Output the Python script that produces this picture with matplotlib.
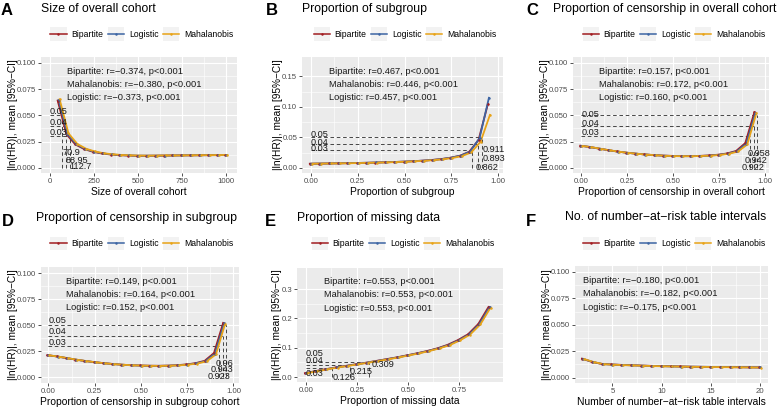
import numpy as np
import matplotlib
matplotlib.use('Agg')
import matplotlib.pyplot as plt
from matplotlib.legend_handler import HandlerLine2D
from matplotlib.lines import Line2D
from matplotlib.patches import Rectangle
from matplotlib.ticker import FormatStrFormatter

plt.rcParams['font.family'] = ['Liberation Sans', 'DejaVu Sans']

methods = ['Bipartite', 'Logistic', 'Mahalanobis']
colors = ['#A11D21', '#3C64A3', '#E8A317']
stat_order = ['Bipartite', 'Mahalanobis', 'Logistic']   # order of the r lines in each panel
thresholds = [0.05, 0.04, 0.03]

# A: size of overall cohort
size_x = [50, 100, 150, 200, 250, 300, 350, 400, 450, 500,
          550, 600, 650, 700, 750, 800, 850, 900, 950, 1000]
size_bip = [0.0640, 0.0318, 0.0222, 0.0178, 0.0152, 0.0136, 0.0126, 0.0120, 0.0116, 0.0114,
            0.0114, 0.0115, 0.0116, 0.0117, 0.0118, 0.0118, 0.0119, 0.0120, 0.0120, 0.0121]
size_log = [0.0645, 0.0322, 0.0224, 0.0179, 0.0153, 0.0137, 0.0127, 0.0121, 0.0117, 0.0115,
            0.0115, 0.0115, 0.0116, 0.0117, 0.0118, 0.0119, 0.0119, 0.0120, 0.0121, 0.0121]
size_maha = [0.0652, 0.0328, 0.0227, 0.0181, 0.0155, 0.0138, 0.0128, 0.0122, 0.0118, 0.0116,
             0.0115, 0.0116, 0.0117, 0.0117, 0.0118, 0.0119, 0.0120, 0.0120, 0.0121, 0.0122]
size_r = ['\u22120.374', '\u22120.380', '\u22120.373']
size_cross = [70.9, 88.95, 112.7]

# B: proportion of subgroup
sub_x = [0.00, 0.05, 0.10, 0.15, 0.20, 0.25, 0.30, 0.35, 0.40, 0.45,
         0.50, 0.55, 0.60, 0.65, 0.70, 0.75, 0.80, 0.85, 0.90, 0.95]
sub_bip = [0.0070, 0.0072, 0.0074, 0.0076, 0.0079, 0.0082, 0.0085, 0.0089, 0.0093, 0.0098,
           0.0104, 0.0111, 0.0120, 0.0131, 0.0146, 0.0168, 0.0200, 0.0265, 0.0460, 0.1050]
sub_log = [0.0071, 0.0073, 0.0075, 0.0077, 0.0080, 0.0083, 0.0086, 0.0090, 0.0094, 0.0099,
           0.0105, 0.0112, 0.0121, 0.0132, 0.0147, 0.0170, 0.0203, 0.0270, 0.0490, 0.1150]
sub_maha = [0.0070, 0.0072, 0.0074, 0.0076, 0.0078, 0.0081, 0.0084, 0.0088, 0.0092, 0.0097,
            0.0103, 0.0110, 0.0118, 0.0129, 0.0143, 0.0164, 0.0194, 0.0255, 0.0430, 0.0870]
sub_r = ['0.467', '0.446', '0.457']
sub_cross = [0.911, 0.893, 0.862]

# C: proportion of censorship in overall cohort
cens_x = [0.00, 0.05, 0.10, 0.15, 0.20, 0.25, 0.30, 0.35, 0.40, 0.45,
          0.50, 0.55, 0.60, 0.65, 0.70, 0.75, 0.80, 0.85, 0.90, 0.95]
cens_bip = [0.0210, 0.0198, 0.0183, 0.0168, 0.0155, 0.0144, 0.0135, 0.0127, 0.0121, 0.0116,
            0.0113, 0.0111, 0.0111, 0.0113, 0.0117, 0.0124, 0.0136, 0.0160, 0.0235, 0.0530]
cens_log = [0.0209, 0.0197, 0.0182, 0.0167, 0.0154, 0.0143, 0.0134, 0.0126, 0.0120, 0.0115,
            0.0112, 0.0110, 0.0110, 0.0112, 0.0116, 0.0123, 0.0135, 0.0158, 0.0230, 0.0525]
cens_maha = [0.0208, 0.0196, 0.0181, 0.0166, 0.0153, 0.0142, 0.0133, 0.0125, 0.0119, 0.0114,
             0.0111, 0.0110, 0.0110, 0.0112, 0.0115, 0.0122, 0.0133, 0.0155, 0.0222, 0.0520]
cens_r = ['0.157', '0.172', '0.160']
cens_cross = [0.958, 0.942, 0.922]

# D: proportion of censorship in subgroup
csub_x = [0.00, 0.05, 0.10, 0.15, 0.20, 0.25, 0.30, 0.35, 0.40, 0.45,
          0.50, 0.55, 0.60, 0.65, 0.70, 0.75, 0.80, 0.85, 0.90, 0.95]
csub_bip = [0.0212, 0.0200, 0.0185, 0.0170, 0.0157, 0.0146, 0.0136, 0.0128, 0.0121, 0.0116,
            0.0113, 0.0111, 0.0110, 0.0112, 0.0116, 0.0123, 0.0135, 0.0158, 0.0232, 0.0522]
csub_log = [0.0211, 0.0199, 0.0184, 0.0169, 0.0156, 0.0145, 0.0135, 0.0127, 0.0120, 0.0115,
            0.0112, 0.0110, 0.0110, 0.0111, 0.0115, 0.0122, 0.0134, 0.0156, 0.0228, 0.0518]
csub_maha = [0.0210, 0.0198, 0.0183, 0.0168, 0.0155, 0.0144, 0.0134, 0.0126, 0.0120, 0.0115,
             0.0112, 0.0110, 0.0109, 0.0111, 0.0114, 0.0121, 0.0132, 0.0153, 0.0220, 0.0515]
csub_r = ['0.149', '0.164', '0.152']
csub_cross = [0.960, 0.943, 0.923]

# E: proportion of missing data
miss_x = [0.00, 0.05, 0.10, 0.15, 0.20, 0.25, 0.30, 0.35, 0.40, 0.45,
          0.50, 0.55, 0.60, 0.65, 0.70, 0.75, 0.80, 0.85, 0.90]
miss_bip = [0.0130, 0.0200, 0.0265, 0.0325, 0.0380, 0.0435, 0.0490, 0.0550, 0.0610, 0.0670,
            0.0740, 0.0810, 0.0890, 0.0980, 0.1100, 0.1260, 0.1460, 0.1810, 0.2390]
miss_log = [0.0130, 0.0200, 0.0265, 0.0325, 0.0380, 0.0435, 0.0490, 0.0550, 0.0610, 0.0670,
            0.0740, 0.0810, 0.0890, 0.0980, 0.1095, 0.1255, 0.1455, 0.1805, 0.2385]
miss_maha = [0.0128, 0.0198, 0.0263, 0.0323, 0.0378, 0.0433, 0.0488, 0.0548, 0.0608, 0.0668,
             0.0738, 0.0808, 0.0888, 0.0978, 0.1090, 0.1250, 0.1450, 0.1795, 0.2370]
miss_r = ['0.553', '0.553', '0.553']
miss_cross = [0.309, 0.215, 0.126]

# F: number of number-at-risk table intervals
nint_x = [2, 3, 4, 5, 6, 7, 8, 9, 10, 11, 12, 13, 14, 15, 16, 17, 18, 19, 20]
nint_bip = [0.0180, 0.0150, 0.0130, 0.0125, 0.0121, 0.0118, 0.0115, 0.0112, 0.0110, 0.0108,
            0.0106, 0.0104, 0.0103, 0.0102, 0.0101, 0.0100, 0.0099, 0.0098, 0.0097]
nint_log = [0.0178, 0.0149, 0.0129, 0.0124, 0.0120, 0.0117, 0.0114, 0.0111, 0.0109, 0.0107,
            0.0105, 0.0104, 0.0103, 0.0102, 0.0101, 0.0100, 0.0099, 0.0098, 0.0097]
nint_maha = [0.0177, 0.0148, 0.0128, 0.0123, 0.0119, 0.0116, 0.0113, 0.0110, 0.0108, 0.0106,
             0.0105, 0.0103, 0.0102, 0.0101, 0.0100, 0.0099, 0.0098, 0.0097, 0.0096]
nint_r = ['\u22120.180', '\u22120.182', '\u22120.175']
nint_cross = []

W, H = 780, 408
fig = plt.figure(figsize=(W / 100, H / 100), dpi=100)


def px_box(x0, y0, x1, y1):
    return [x0 / W, 1 - y1 / H, (x1 - x0) / W, (y1 - y0) / H]


class KeyHandler(HandlerLine2D):
    # grey key background like ggplot
    def create_artists(self, legend, orig_handle, xdescent, ydescent,
                       width, height, fontsize, trans):
        arts = super().create_artists(legend, orig_handle, xdescent, ydescent,
                                      width, height, fontsize, trans)
        pad = 0.45 * fontsize
        bg = Rectangle((-xdescent, -ydescent - pad), width, height + 2 * pad,
                       facecolor='#F2F2F2', edgecolor='none', transform=trans)
        return [bg] + list(arts)


panels = [
    dict(letter='A', title='Size of overall cohort', xlabel='Size of overall cohort',
         x=size_x, ys=[size_bip, size_log, size_maha], r=size_r, cross=size_cross,
         box=(41, 57, 237, 173), title_x=40.7, letter_x=0.5, row_y=(10.8, 9.2, 34.3), leg_x=141.7,
         xlim=(-50, 1060), ylim=(-0.005, 0.1055),
         xticks=[0, 250, 500, 750, 1000], yticks=[0, 0.025, 0.05, 0.075, 0.1], yfmt='%.3f', xfmt=None,
         lab_xy=[(70.9, 0.0142), (88.5, 0.0069), (112.7, 0.0012)], thr_off=[4, 3.5, 4]),
    dict(letter='B', title='Proportion of subgroup', xlabel='Proportion of subgroup',
         x=sub_x, ys=[sub_bip, sub_log, sub_maha], r=sub_r, cross=sub_cross,
         box=(302, 57, 503, 173), title_x=301.7, letter_x=266, row_y=(10.8, 9.2, 34.3), leg_x=405,
         xlim=(-0.047, 1.025), ylim=(-0.0082, 0.1818),
         xticks=[0, 0.25, 0.5, 0.75, 1.0], yticks=[0, 0.05, 0.10, 0.15], yfmt='%.2f', xfmt='%.2f',
         lab_xy=[(0.918, 0.031), (0.918, 0.016), (0.877, 0.001)], thr_off=[2.8, 1.5, 1.2]),
    dict(letter='C', title='Proportion of censorship in overall cohort',
         xlabel='Proportion of censorship in overall cohort',
         x=cens_x, ys=[cens_bip, cens_log, cens_maha], r=cens_r, cross=cens_cross,
         box=(573, 57, 769, 173), title_x=553, letter_x=526, row_y=(10.8, 9.2, 34.3), leg_x=674,
         xlim=(-0.045, 1.024), ylim=(-0.005, 0.1055),
         xticks=[0, 0.25, 0.5, 0.75, 1.0], yticks=[0, 0.025, 0.05, 0.075, 0.1], yfmt='%.3f', xfmt='%.2f',
         lab_xy=[(0.909, 0.0139), (0.891, 0.0069), (0.873, 0.0007)], thr_off=[0.5, 2.7, 4]),
    dict(letter='D', title='Proportion of censorship in subgroup',
         xlabel='Proportion of censorship in subgroup cohort',
         x=csub_x, ys=[csub_bip, csub_log, csub_maha], r=csub_r, cross=csub_cross,
         box=(41, 267, 239, 383), title_x=35.7, letter_x=1.5, row_y=(222, 218.5, 244), leg_x=141.7,
         xlim=(-0.04, 1.03), ylim=(-0.0055, 0.1058),
         xticks=[0, 0.25, 0.5, 0.75, 1.0], yticks=[0, 0.025, 0.05, 0.075, 0.1], yfmt='%.3f', xfmt='%.2f',
         lab_xy=[(0.902, 0.0128), (0.878, 0.0070), (0.860, 0.0006)], thr_off=[4.5, 3.9, 3.7]),
    dict(letter='E', title='Proportion of missing data', xlabel='Proportion of missing data',
         x=miss_x, ys=[miss_bip, miss_log, miss_maha], r=miss_r, cross=miss_cross,
         box=(297, 268, 503, 382), title_x=297.3, letter_x=265, row_y=(222, 217.5, 244), leg_x=403,
         xlim=(-0.044, 0.966), ylim=(-0.017, 0.372),
         xticks=[0, 0.25, 0.5, 0.75], yticks=[0, 0.1, 0.2, 0.3], yfmt='%.1f', xfmt='%.2f',
         lab_xy=[(0.32, 0.042), (0.214, 0.019), (0.13, -0.003)], thr_off=[8.6, 4.5, -5]),
    dict(letter='F', title='No. of number\u2212at\u2212risk table intervals',
         xlabel='Number of number\u2212at\u2212risk table intervals',
         x=nint_x, ys=[nint_bip, nint_log, nint_maha], r=nint_r, cross=nint_cross,
         box=(575, 266, 768, 383), title_x=565, letter_x=526, row_y=(222, 217.5, 244), leg_x=674,
         xlim=(1.2, 20.8), ylim=(-0.005, 0.1055),
         xticks=[5, 10, 15, 20], yticks=[0, 0.025, 0.05, 0.075, 0.1], yfmt='%.3f', xfmt=None,
         lab_xy=[], thr_off=[]),
]

for p in panels:
    ax = fig.add_axes(px_box(*p['box']))
    ax.set_facecolor('#EBEBEB')
    for s in ax.spines.values():
        s.set_visible(False)
    ax.set_xlim(*p['xlim'])
    ax.set_ylim(*p['ylim'])
    xt, yt = p['xticks'], p['yticks']
    ax.set_xticks(xt)
    ax.set_yticks(yt)
    xminor = [(a + b) / 2 for a, b in zip(xt[:-1], xt[1:])]
    if p['letter'] == 'F':
        xminor = [xt[0] - (xt[1] - xt[0]) / 2] + xminor
    ax.set_xticks(xminor, minor=True)
    ax.set_yticks([(a + b) / 2 for a, b in zip(yt[:-1], yt[1:])], minor=True)
    ax.yaxis.set_major_formatter(FormatStrFormatter(p['yfmt']))
    if p['xfmt']:
        ax.xaxis.set_major_formatter(FormatStrFormatter(p['xfmt']))
    ax.grid(which='major', color='white', lw=0.8)
    ax.grid(which='minor', color='white', lw=0.4)
    ax.set_axisbelow(True)
    ax.tick_params(which='major', length=2, width=0.6, color='#333333',
                   labelsize=5.6, labelcolor='#4D4D4D', pad=1.5)
    ax.tick_params(which='minor', length=0)
    ax.set_xlabel(p['xlabel'], fontsize=7.4, labelpad=1.5)
    ax.set_ylabel('|ln(HR)|, mean [95%\u2212CI]', fontsize=7.3, labelpad=-0.5)

    xr = p['xlim'][1] - p['xlim'][0]
    dodge = 0.005 * xr
    xs = np.array(p['x'], dtype=float)

    # threshold guides
    for thr, cx, off in zip(thresholds, p['cross'], p['thr_off']):
        ax.plot([0, cx], [thr, thr], color='#3A3A3A', lw=0.65, dashes=(4, 3), zorder=2)
        ax.plot([cx, cx], [0, thr], color='#3A3A3A', lw=0.65, dashes=(4, 3), zorder=2)
        ax.annotate('%.2f' % thr, (0, thr), xytext=(0, off * 0.72), textcoords='offset points',
                    ha='left', va='center', fontsize=6.6, color='#1A1A1A', zorder=5)
    for cx, (lx, ly) in zip(p['cross'], p['lab_xy']):
        ax.text(lx, ly, '{:g}'.format(cx), ha='left', va='center', fontsize=6.6,
                color='#1A1A1A', zorder=5)

    for k, (ys, c) in enumerate(zip(p['ys'], colors)):
        ax.plot(xs + (k - 1) * dodge, ys, color=c, lw=1.3, zorder=3)
    for k, (ys, c) in enumerate(zip(p['ys'], colors)):
        ax.plot(xs + (k - 1) * dodge, ys, 'o', color=c, ms=1.8, mew=0, zorder=4)

    # correlation text
    for yf, name, r in zip([0.878, 0.765, 0.648], stat_order, p['r']):
        t = ax.text(0.1 * max(p['x']), 0, '%s: r=%s, p<0.001' % (name, r),
                    transform=ax.get_xaxis_transform(), fontsize=6.7, color='#1A1A1A',
                    ha='left', va='center', zorder=5)
        t.set_y(yf)

    ly, ty, gy = p['row_y']
    fig.text(p['letter_x'] / W, 1 - ly / H, p['letter'], fontsize=12, fontweight='bold',
             ha='left', va='center')
    fig.text(p['title_x'] / W, 1 - ty / H, p['title'], fontsize=8.8, ha='left', va='center')

    handles = [Line2D([], [], color=c, lw=1.1, marker='o', ms=1.8, mew=0) for c in colors]
    fig.legend(handles, methods, loc='center', bbox_to_anchor=(p['leg_x'] / W, 1 - gy / H),
               ncol=3, frameon=False, fontsize=6.2, handlelength=1.9, handleheight=0.7,
               handletextpad=0.55, columnspacing=0.5, borderpad=0, borderaxespad=0,
               handler_map={Line2D: KeyHandler(numpoints=1)})

fig.savefig('out.png', dpi=100)
